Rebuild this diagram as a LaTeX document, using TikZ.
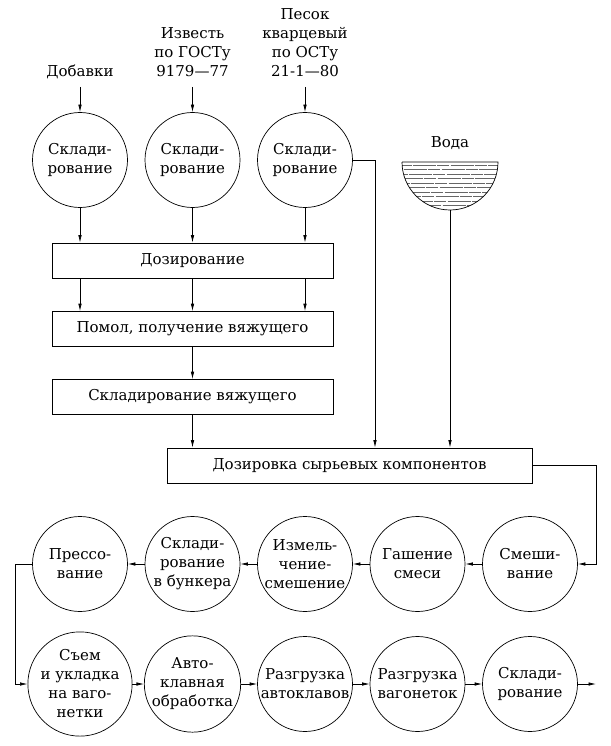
\documentclass[tikz,border=0pt]{standalone}
\usepackage{fontspec}
\setmainfont{DejaVu Serif}
\usetikzlibrary{arrows.meta}
\newcommand{\flowfont}{\fontsize{15}{19}\selectfont}

\begin{document}
\begin{tikzpicture}[x=1pt,y=-1pt,line width=0.7pt,>={Latex[length=7.5pt,width=3.5pt]}]
	\tikzset{stage/.style={draw,circle,minimum size=95pt,inner sep=0pt,align=center,font=\flowfont},
		opbox/.style={draw,rectangle,minimum height=35pt,inner sep=0pt,font=\flowfont},
		src/.style={align=center,inner sep=0pt,font=\flowfont}}
	\useasboundingbox (0,0) rectangle (610,746);

	    % raw materials
	    \node[src,anchor=base] (add) at (80,77) {Добавки};
	    \node[src,anchor=base] (lime) at (192.5,77) {Известь\\по ГОСТу\\9179—77};
	    \node[src,anchor=base] (sand) at (305,77) {Песок\\кварцевый\\по ОСТу\\21-1—80};

	    \node[stage] (s1) at (80,160) {Склади-\\рование};
	    \node[stage] (s2) at (192.5,160) {Склади-\\рование};
	    \node[stage] (s3) at (305,160) {Склади-\\рование};

	    % water tank
	    \node[src] (water) at (450,143) {Вода};
	    \begin{scope}
	    \clip (402,162) -- (498,162) arc[start angle=0,end angle=180,radius=48] -- cycle;
	    \foreach \y/\ph in {165/0,169.5/9,174/4,178.5/13,183/2,187.5/11,192/6,196.5/15,201/3,205.5/8}
	        \draw[line width=0.45pt,black!60,dash pattern=on 12pt off 1.2pt on 23pt off 1.2pt,dash phase=\ph] (400,\y) -- (500,\y);
	    \end{scope}
	    \draw (402,162) -- (498,162) arc[start angle=0,end angle=180,radius=48];
	    \coordinate (bowl) at (450,210);

	    % line of boxes
	    \node[opbox,minimum width=281pt] (dose) at (192.5,260.5) {Дозирование};
	    \node[opbox,minimum width=281pt] (mill) at (192.5,329) {Помол, получение вяжущего};
	    \node[opbox,minimum width=281pt] (bind) at (192.5,397) {Складирование вяжущего};
	    \node[opbox,minimum width=365pt] (mix) at (349.5,465.5) {Дозировка сырьевых компонентов};

	    \coordinate (bypass) at (375,0);
	    \coordinate (ret) at (596,0);
	    \coordinate (back) at (15,0);

	    % upper row, right to left
	    \node[stage] (r1) at (80,564) {Прессо-\\вание};
	    \node[stage] (r2) at (192.5,564) {Склади-\\рование\\в бункера};
	    \node[stage] (r3) at (305,564) {Измель-\\чение-\\смешение};
	    \node[stage] (r4) at (417.5,564) {Гашение\\смеси};
	    \node[stage] (r5) at (530,564) {Смеши-\\вание};

	    % lower row, left to right
	    \node[stage] (q1) at (80,684) {Съем\\и укладка\\на ваго-\\нетки};
	    \node[stage] (q2) at (192.5,684) {Авто-\\клавная\\обработка};
	    \node[stage] (q3) at (305,684) {Разгрузка\\автоклавов};
	    \node[stage] (q4) at (417.5,684) {Разгрузка\\вагонеток};
	    \node[stage] (q5) at (530,684) {Склади-\\рование};

	    \draw[->] ([yshift=-10pt]add.base) -- (s1);
	    \draw[->] ([yshift=-10pt]lime.base) -- (s2);
	    \draw[->] ([yshift=-10pt]sand.base) -- (s3);

	    \draw[->] (s1) -- (s1 |- dose.north);
	    \draw[->] (s2) -- (s2 |- dose.north);
	    \draw[->] (s3) -- (s3 |- dose.north);
	    \draw[->] (dose.south -| s1) -- (mill.north -| s1);
	    \draw[->] (dose.south -| s2) -- (mill.north -| s2);
	    \draw[->] (dose.south -| s3) -- (mill.north -| s3);
	    \draw[->] (mill) -- (bind);
	    \draw[->] (bind.south) -- (bind.south |- mix.north);
	    \draw[->] (s3.east) -- (s3.east -| bypass) -- (bypass |- mix.north);
	    \draw[->] (bowl) -- (bowl |- mix.north);
	    \draw[->] (mix.east) -- (mix.east -| ret) -- (ret |- r5) -- (r5);

	    \draw[->] (r5) -- (r4);
	    \draw[->] (r4) -- (r3);
	    \draw[->] (r3) -- (r2);
	    \draw[->] (r2) -- (r1);
	    \draw[->] (r1.west) -- (r1.west -| back) -- (back |- q1) -- (q1);

	    \draw[->] (q1) -- (q2);
	    \draw[->] (q2) -- (q3);
	    \draw[->] (q3) -- (q4);
	    \draw[->] (q4) -- (q5);
	    \draw[->] (q5) -- (q5.east -| ret);

\end{tikzpicture}
\end{document}
